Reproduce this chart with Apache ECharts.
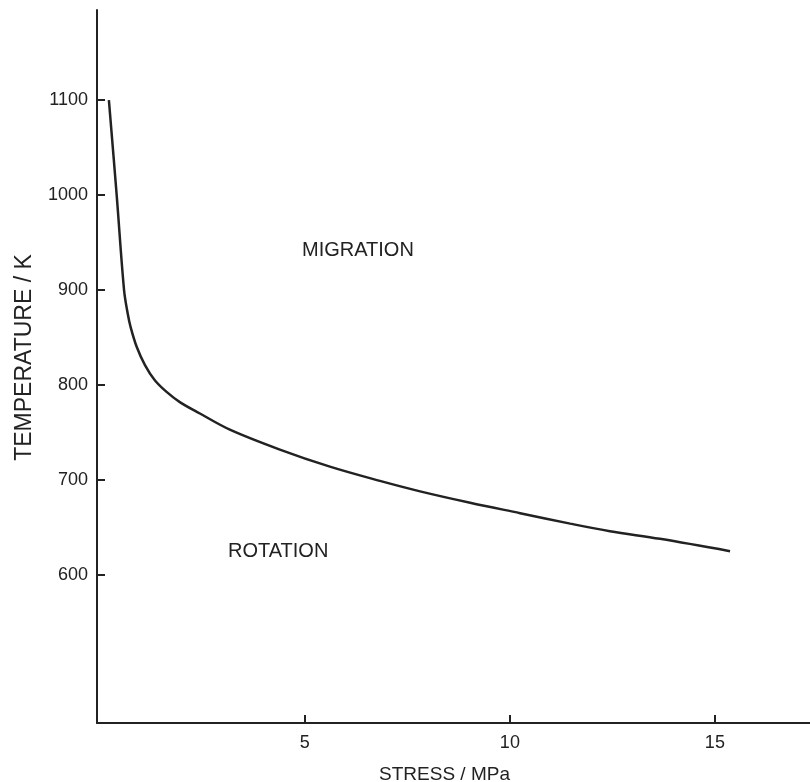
<!DOCTYPE html>
<html>
<head>
    <meta charset="UTF-8">
    <title>Migration / Rotation</title>
    <script src="https://cdn.jsdelivr.net/npm/echarts@6/dist/echarts.min.js"></script>
    <style>
        html, body { margin: 0; padding: 0; background: #ffffff; }
        #main { width: 810px; height: 782px; }
    </style>
</head>
<body>
<div id="main"></div>
<script type="text/javascript">
    // boundary curve
    var stress = [0.22, 0.41, 0.59, 0.68, 0.75, 0.90, 1.10, 1.34, 1.62, 1.95, 2.44, 3.17, 4.39, 5.61, 6.83, 7.81, 9.03, 10.25, 11.47, 12.44, 13.66, 15.37];
    var temperature = [1100, 1000, 900, 875, 861, 840, 821, 805, 793, 782, 770, 753, 732, 714, 699, 688, 676, 665, 654, 646, 638, 625];
    var xTicks = [5, 10, 15];
    var yTicks = [600, 700, 800, 900, 1000, 1100];

    var points = stress.map(function (s, i) { return [s, temperature[i]]; });

    var font = 'Liberation Sans, Arial, Helvetica, sans-serif';
    var ink = '#222222';

    var myChart = echarts.init(document.getElementById('main'));

    var option = {
        animation: false,
        backgroundColor: '#ffffff',
        grid: { left: 97, top: 10, right: 0, bottom: 59, containLabel: false, outerBoundsMode: 'none' },
        xAxis: {
            type: 'value',
            min: -0.07,
            max: 17.32,
            name: 'STRESS / MPa',
            nameLocation: 'middle',
            nameGap: 42,
            nameTextStyle: { color: ink, fontSize: 19, fontFamily: font, padding: [0, 18, 0, 0] },
            axisLine: { show: true, onZero: false, lineStyle: { color: ink, width: 2 } },
            axisTick: { show: true, inside: true, length: 8, customValues: xTicks, lineStyle: { color: ink, width: 2 } },
            axisLabel: { show: true, customValues: xTicks, margin: 11, color: ink, fontSize: 18, fontFamily: font,
                formatter: function (v) { return String(v); } },
            splitLine: { show: false }
        },
        yAxis: {
            type: 'value',
            min: 444,
            max: 1195,
            name: 'TEMPERATURE / K',
            nameLocation: 'middle',
            nameGap: 61,
            nameRotate: 90,
            nameTextStyle: { color: ink, fontSize: 23, fontFamily: font, padding: [0, 0, 0, 18] },
            axisLine: { show: true, onZero: false, lineStyle: { color: ink, width: 2 } },
            axisTick: { show: true, inside: true, length: 8, customValues: yTicks, lineStyle: { color: ink, width: 2 } },
            axisLabel: { show: true, customValues: yTicks, margin: 9, color: ink, fontSize: 18, fontFamily: font,
                formatter: function (v) { return String(v); } },
            splitLine: { show: false }
        },
        graphic: [
            { type: 'text', x: 302, y: 250, style: { text: 'MIGRATION', fill: ink, font: '20px ' + font, verticalAlign: 'middle' } },
            { type: 'text', x: 228, y: 551, style: { text: 'ROTATION', fill: ink, font: '20px ' + font, verticalAlign: 'middle' } }
        ],
        series: [
            {
                type: 'line',
                data: points,
                smooth: 0.35,
                symbol: 'none',
                lineStyle: { color: ink, width: 2.5 }
            }
        ]
    };

    myChart.setOption(option);
</script>
</body>
</html>
